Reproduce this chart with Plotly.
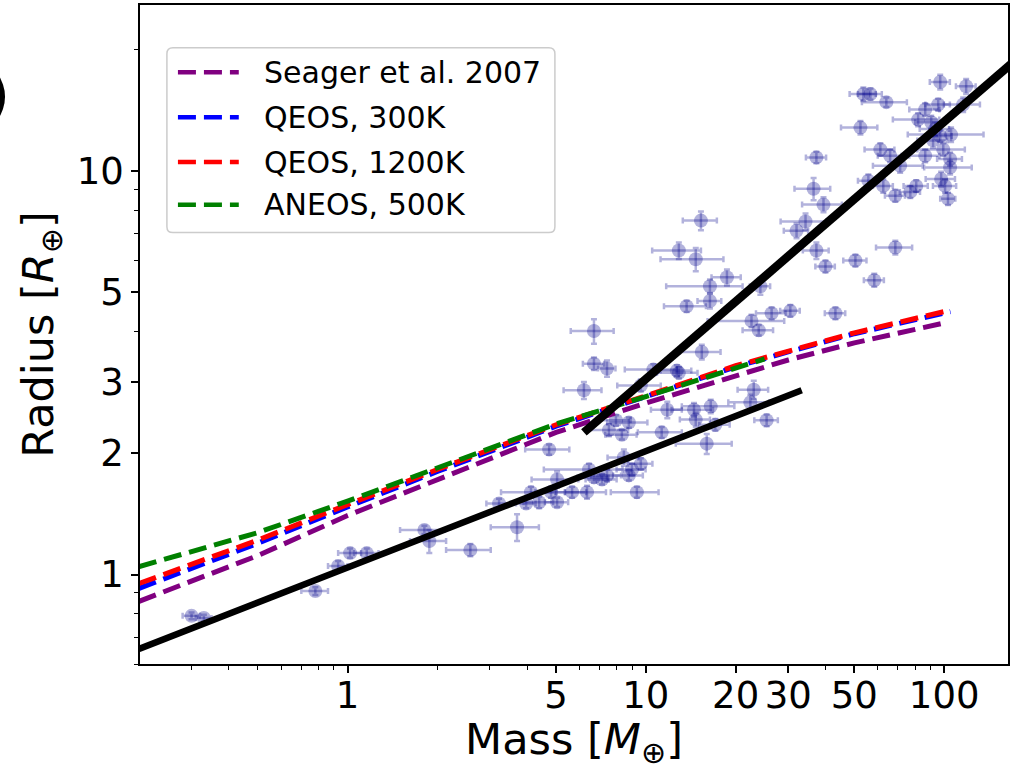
import plotly.graph_objects as go

# ---------------- observed planets (mass [M_earth], radius [R_earth]) ----------------
mass = [0.30, 0.33, 0.78, 0.93, 1.02, 1.16, 1.81, 1.88, 2.58, 3.70,
        3.22, 4.12, 3.97, 4.39, 4.81, 5.04, 5.04, 5.66, 6.35, 6.45,
        6.70, 7.13, 7.41, 8.44, 8.77, 8.98, 9.62, 9.33, 4.74, 7.52,
        8.31, 8.77, 7.94, 11.3, 6.70, 6.70, 7.41, 6.20, 9.62, 13.7,
        16.4, 15.4, 12.9, 10.6, 12.7, 22.6, 23.9, 26.4, 30.5, 43.2,
        23.0, 22.4, 25.4, 16.5, 14.5, 14.7, 17.1, 11.8, 16.0, 15.3,
        12.9, 14.7, 18.7, 16.4, 24.2, 37.3, 36.5, 39.4, 34.3, 32.0,
        37.3, 40.0, 50.4, 58.3, 68.6, 52.4, 53.6, 56.6, 64.0, 97.0,
        118.5, 86.4, 95.5, 81.8, 90.5, 93.3, 105.5, 115.8, 91.8, 86.4,
        99.3, 104.7, 104.7, 97.7, 100.7, 103.0, 61.1, 65.9, 71.2, 55.7,
        62.5, 68.6, 77.0, 80.6, 97.0]
mass_err = [0.02, 0.02, 0.08, 0.07, 0.09, 0.11, 0.31, 0.26, 0.44, 0.68,
            0.30, 0.85, 0.30, 0.50, 0.55, 0.90, 0.45, 0.65, 1.00, 1.90,
            0.80, 0.85, 0.85, 1.00, 1.00, 1.00, 0.90, 1.70, 0.80, 1.20,
            1.00, 1.35, 0.95, 1.90, 1.10, 0.55, 0.50, 0.90, 1.60, 2.20,
            1.50, 2.40, 2.00, 2.10, 1.50, 6.50, 2.80, 3.00, 2.30, 3.40,
            2.70, 3.50, 2.30, 3.30, 2.30, 1.70, 2.00, 1.40, 3.40, 2.00,
            2.40, 3.50, 2.10, 4.70, 1.90, 2.90, 5.00, 6.00, 6.00, 3.00,
            3.70, 3.00, 4.50, 4.50, 9.50, 7.30, 5.40, 5.20, 11.0, 7.50,
            9.00, 10.0, 9.00, 14.5, 10.5, 10.5, 30.0, 16.0, 10.5, 10.0,
            18.0, 10.0, 19.0, 11.0, 9.00, 6.00, 7.00, 6.00, 13.5, 4.30,
            4.80, 5.30, 6.00, 7.50, 9.00]
radius = [0.79, 0.78, 0.91, 1.05, 1.13, 1.13, 1.29, 1.21, 1.15, 1.31,
          1.50, 1.60, 1.50, 1.51, 1.60, 1.72, 1.51, 1.60, 1.60, 1.82,
          1.74, 1.72, 1.76, 1.95, 1.76, 1.82, 1.88, 1.60, 2.04, 2.28,
          2.22, 2.38, 2.41, 2.25, 4.01, 3.33, 3.24, 2.86, 2.94, 4.62,
          4.76, 3.56, 3.16, 3.22, 3.20, 4.25, 4.03, 4.44, 4.50, 4.44,
          2.87, 2.67, 2.41, 2.61, 2.56, 2.42, 2.35, 2.56, 2.11, 7.53,
          6.35, 6.04, 5.45, 5.18, 5.18, 10.8, 9.03, 8.25, 7.49, 7.11,
          6.35, 5.80, 6.00, 5.36, 6.46, 12.8, 15.5, 15.5, 14.8, 16.6,
          16.2, 14.2, 14.6, 13.4, 13.2, 12.7, 12.3, 14.6, 11.9, 10.9,
          11.3, 10.7, 10.2, 9.55, 9.18, 8.53, 11.3, 10.9, 10.3, 9.45,
          9.18, 8.68, 8.87, 9.18, 12.2]
radius_err = [0.015, 0.015, 0.02, 0.03, 0.03, 0.03, 0.03, 0.08, 0.04, 0.10,
              0.04, 0.05, 0.04, 0.05, 0.05, 0.08, 0.04, 0.05, 0.06, 0.06,
              0.05, 0.05, 0.06, 0.09, 0.05, 0.06, 0.06, 0.05, 0.06, 0.08,
              0.06, 0.07, 0.07, 0.07, 0.28, 0.12, 0.15, 0.14, 0.10, 0.15,
              0.20, 0.15, 0.10, 0.10, 0.10, 0.15, 0.12, 0.15, 0.15, 0.15,
              0.15, 0.12, 0.08, 0.10, 0.10, 0.10, 0.08, 0.12, 0.12, 0.40,
              0.30, 0.40, 0.25, 0.20, 0.25, 0.35, 0.57, 0.35, 0.35, 0.30,
              0.30, 0.20, 0.20, 0.20, 0.25, 0.50, 0.60, 0.50, 0.40, 0.70,
              0.70, 0.50, 0.50, 0.50, 0.50, 0.50, 0.50, 0.60, 0.50, 0.40,
              0.40, 0.40, 0.40, 0.40, 0.35, 0.30, 0.40, 0.40, 0.40, 0.35,
              0.35, 0.30, 0.30, 0.30, 0.40]

# ---------------- model mass-radius curves ----------------
seager_m = [0.2, 0.5, 1, 2, 5, 10, 20, 30, 50, 100]
seager_r = [0.858, 1.114, 1.40, 1.72, 2.25, 2.66, 3.12, 3.40, 3.75, 4.20]
qeos300_m = [0.2, 0.5, 1, 2, 5, 10, 20, 30, 50, 105]
qeos300_r = [0.924, 1.195, 1.47, 1.80, 2.33, 2.75, 3.27, 3.56, 3.95, 4.48]
qeos1200_m = [0.2, 0.5, 1, 2, 5, 10, 20, 30, 50, 105]
qeos1200_r = [0.95, 1.217, 1.49, 1.82, 2.35, 2.77, 3.29, 3.58, 3.97, 4.52]
aneos_m = [0.2, 0.5, 1, 2, 5, 10, 20, 25]
aneos_r = [1.046, 1.270, 1.52, 1.84, 2.36, 2.76, 3.25, 3.42]

curve_names = ["Seager et al. 2007", "QEOS, 300K", "QEOS, 1200K", "ANEOS, 500K"]
curve_colors = ["#800080", "#0000ff", "#ff0000", "#008000"]
curve_data = [(seager_m, seager_r), (qeos300_m, qeos300_r),
              (qeos1200_m, qeos1200_r), (aneos_m, aneos_r)]

# ---------------- power-law fits ----------------
fit_low_m = [0.2, 33.3]
fit_low_r = [0.654, 2.86]
fit_high_m = [6.2, 200]
fit_high_r = [2.25, 20.6]

# ---------------- axes ticks ----------------
x_ticks = [1, 5, 10, 20, 30, 50, 100]
x_ticktext = ["1", "5", "10", "20", "30", "50", "100"]
x_minor = [0.2, 0.3, 0.4, 0.5, 0.6, 0.7, 0.8, 0.9, 2, 3, 4, 6, 7, 8, 9, 40, 60, 70, 80, 90]
y_ticks = [1, 2, 3, 5, 10]
y_ticktext = ["1", "2", "3", "5", "10"]
y_minor = [0.6, 0.7, 0.8, 0.9, 4, 6, 7, 8, 9, 20]

FONT = "DejaVu Sans"
pt_col = "rgba(0,0,139,0.3)"
DASH = "18px,8px"

fig = go.Figure()

fig.add_trace(go.Scatter(
    x=mass, y=radius, mode="markers",
    marker=dict(color=pt_col, size=14, line=dict(width=0)),
    error_x=dict(type="data", array=mass_err, color=pt_col, thickness=2.5, width=3),
    error_y=dict(type="data", array=radius_err, color=pt_col, thickness=2.5, width=3),
    showlegend=False, hoverinfo="skip"))

for (cm, cr), col, nm in zip(curve_data, curve_colors, curve_names):
    fig.add_trace(go.Scatter(
        x=cm, y=cr, mode="lines", name=nm,
        line=dict(color=col, width=5, dash=DASH),
        showlegend=False))

fig.add_trace(go.Scatter(x=fit_low_m, y=fit_low_r, mode="lines",
                         line=dict(color="black", width=6.5), showlegend=False))
fig.add_trace(go.Scatter(x=fit_high_m, y=fit_high_r, mode="lines",
                         line=dict(color="black", width=8.5), showlegend=False))

# ---------------- manual legend (paper coordinates) ----------------
x0, x1, y0, y1 = 0.031, 0.478, 0.6546, 0.9351
rx, ry = 0.007, 0.009
path = (f"M {x0+rx},{y0} L {x1-rx},{y0} Q {x1},{y0} {x1},{y0+ry} "
        f"L {x1},{y1-ry} Q {x1},{y1} {x1-rx},{y1} L {x0+rx},{y1} "
        f"Q {x0},{y1} {x0},{y1-ry} L {x0},{y0+ry} Q {x0},{y0} {x0+rx},{y0} Z")
shapes = [dict(type="path", path=path, xref="paper", yref="paper",
               fillcolor="rgba(255,255,255,0.8)", line=dict(color="#cccccc", width=1.5),
               layer="above")]
annotations = []
rows = [0.8979, 0.8296, 0.7617, 0.6968]
for nm, col, yy in zip(curve_names, curve_colors, rows):
    shapes.append(dict(type="line", xref="paper", yref="paper",
                       x0=0.0437, x1=0.1138, y0=yy, y1=yy,
                       line=dict(color=col, width=4.5, dash=DASH), layer="above"))
    annotations.append(dict(text=nm, xref="paper", yref="paper", x=0.1400, y=yy,
                            xanchor="left", yanchor="middle", showarrow=False,
                            font=dict(family=FONT, size=30, color="black")))

annotations.append(dict(text=")", xref="paper", yref="paper", x=-0.148, y=0.864,
                        xanchor="right", yanchor="middle", showarrow=False,
                        font=dict(family=FONT, size=56, color="black")))

fig.update_layout(
    width=1011, height=770,
    margin=dict(l=140, r=1, t=5, b=102),
    paper_bgcolor="white", plot_bgcolor="white",
    font=dict(family=FONT, color="black"),
    shapes=shapes, annotations=annotations,
    showlegend=False,
)
fig.update_xaxes(
    type="log", range=[-0.6957, 2.214],
    tickmode="array", tickvals=x_ticks, ticktext=x_ticktext, tickangle=0,
    ticks="outside", ticklen=7, tickwidth=1.5, tickcolor="black",
    ticklabelstandoff=-9,
    tickfont=dict(family=FONT, size=37, color="black"),
    minor=dict(tickmode="array", tickvals=x_minor, ticks="outside", ticklen=4,
               tickwidth=1, tickcolor="black", showgrid=False),
    showgrid=False, zeroline=False,
    showline=True, linecolor="black", linewidth=1.5, mirror=True,
    title=dict(text="Mass [<i>M</i><sub>⊕</sub>]", standoff=22,
               font=dict(family=FONT, size=43, color="black")),
)
fig.update_yaxes(
    type="log", range=[-0.2217, 1.411],
    tickmode="array", tickvals=y_ticks, ticktext=y_ticktext,
    ticks="outside", ticklen=7, tickwidth=1.5, tickcolor="black",
    tickfont=dict(family=FONT, size=37, color="black"),
    minor=dict(tickmode="array", tickvals=y_minor, ticks="outside", ticklen=4,
               tickwidth=1, tickcolor="black", showgrid=False),
    showgrid=False, zeroline=False,
    showline=True, linecolor="black", linewidth=1.5, mirror=True,
    title=dict(text="Radius [<i>R</i><sub>⊕</sub>]", standoff=10,
               font=dict(family=FONT, size=43, color="black")),
)

fig.write_html("out.html")
